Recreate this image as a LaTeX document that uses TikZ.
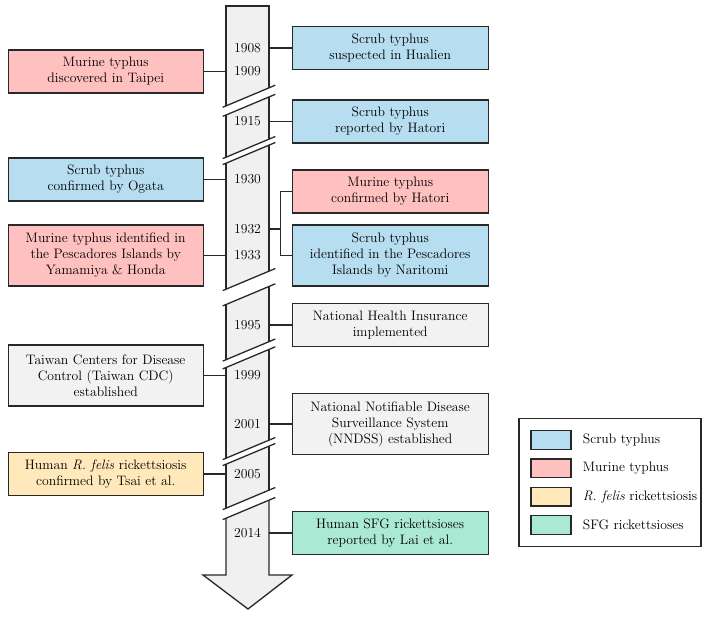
\documentclass[tikz,border=0pt]{standalone}
\usetikzlibrary{positioning}

\definecolor{scrubblue}{RGB}{183,221,240}
\definecolor{murinepink}{RGB}{255,192,192}
\definecolor{felisyellow}{RGB}{255,233,186}
\definecolor{sfggreen}{RGB}{170,233,212}
\definecolor{othergray}{RGB}{242,242,242}
\definecolor{barsgray}{RGB}{240,240,240}
\definecolor{inkline}{RGB}{40,40,40}

\tikzset{
  edge/.style={draw=inkline, line width=1.3pt},
  event/.style={draw=inkline, line width=1.3pt, align=center, minimum width=195pt,
    minimum height=43pt, inner sep=2pt},
  tall/.style={minimum height=61pt},
  yearlbl/.style={minimum width=43pt, inner sep=0pt},
  swatch/.style={draw=inkline, line width=1.3pt, minimum width=40pt, minimum height=18.5pt, inner sep=0pt},
  legtext/.style={inner sep=0pt, anchor=west}
}

% piece of the time bar between two cut marks (centre heights)
\newcommand{\barpiece}[2]{%
  \fill[barsgray] (226,#1+9.24) -- (269,#1-8.82) -- (269,#2-8.82) -- (226,#2+9.24) -- cycle;
  \draw[edge] (226,#1+9.24) -- (226,#2+9.24) (269,#1-8.82) -- (269,#2-8.82);}
% slanted cut mark
\newcommand{\cutmark}[1]{\draw[edge] (222.7,#1+10.6) -- (275.3,#1-11.5);}

\begin{document}
\begin{tikzpicture}[x=1pt, y=-1pt, font=\fontsize{13.7}{16}\selectfont]
    \useasboundingbox (0,0) rectangle (706,616);

    % time bar
    \fill[barsgray] (226,6) -- (269,6) -- (269,96.7-8.82) -- (226,96.7+9.24) -- cycle;
    \draw[edge] (226,96.7+9.24) -- (226,6) -- (269,6) -- (269,96.7-8.82);
    \barpiece{105.8}{148}
    \barpiece{154}{280}
    \barpiece{295.3}{350.5}
    \barpiece{358.3}{449}
    \barpiece{455}{499}
    \fill[barsgray] (226,509+9.24) -- (269,509-8.82) -- (269,575) -- (292,575) -- (248,609)
        -- (203,575) -- (226,575) -- cycle;
    \draw[edge] (269,509-8.82) -- (269,575) -- (292,575) -- (248,609) -- (203,575)
        -- (226,575) -- (226,509+9.24);
    \cutmark{96.7} \cutmark{105.8}
    \cutmark{148} \cutmark{154}
    \cutmark{280} \cutmark{295.3}
    \cutmark{350.5} \cutmark{358.3}
    \cutmark{449} \cutmark{455}
    \cutmark{499} \cutmark{509}

    % years
    \node[yearlbl] (y1908) at (247.5,48) {1908};
    \node[yearlbl] (y1909) at (247.5,71.5) {1909};
    \node[yearlbl] (y1915) at (247.5,121.5) {1915};
    \node[yearlbl] (y1930) at (247.5,179.5) {1930};
    \node[yearlbl] (y1932) at (247.5,229) {1932};
    \node[yearlbl] (y1933) at (247.5,255.5) {1933};
    \node[yearlbl] (y1995) at (247.5,325) {1995};
    \node[yearlbl] (y1999) at (247.5,375.5) {1999};
    \node[yearlbl] (y2001) at (247.5,424) {2001};
    \node[yearlbl] (y2005) at (247.5,474) {2005};
    \node[yearlbl] (y2014) at (247.5,533) {2014};

    % events on the left
    \node[event, fill=murinepink] (taipei) at (105.7,71.5) {Murine typhus\\discovered in Taipei};
    \node[event, fill=scrubblue] (ogata) at (105.7,179.5) {Scrub typhus\\confirmed by Ogata};
    \node[event, tall, fill=murinepink] (yamamiya) at (105.7,255.5)
        {Murine typhus identified in\\the Pescadores Islands by\\Yamamiya \& Honda};
    \node[event, tall, fill=othergray] (taiwancdc) at (105.7,375.5)
        {Taiwan Centers for Disease\\Control (Taiwan CDC)\\established};
    \node[event, fill=felisyellow] (tsai) at (105.7,474)
        {Human \textit{R. felis} rickettsiosis\\confirmed by Tsai et al.};

    % events on the right
    \node[event, minimum width=196pt, fill=scrubblue] (hualien) at (390.2,48)
        {Scrub typhus\\suspected in Hualien};
    \node[event, minimum width=196pt, fill=scrubblue] (hatori) at (390.2,121.5)
        {Scrub typhus\\reported by Hatori};
    \node[event, minimum width=196pt, fill=murinepink] (mthatori) at (390.2,191.5)
        {Murine typhus\\confirmed by Hatori};
    \node[event, tall, minimum width=196pt, fill=scrubblue] (naritomi) at (390.2,255.5)
        {Scrub typhus\\identified in the Pescadores\\Islands by Naritomi};
    \node[event, minimum width=196pt, fill=othergray] (nhi) at (390.2,325)
        {National Health Insurance\\implemented};
    \node[event, tall, minimum width=196pt, fill=othergray] (nndss) at (390.2,424)
        {National Notifiable Disease\\Surveillance System\\(NNDSS) established};
    \node[event, minimum width=196pt, fill=sfggreen] (lai) at (390.2,533)
        {Human SFG rickettsioses\\reported by Lai et al.};

    % connectors
    \draw[edge] (y1908) -- (hualien);
    \draw[edge] (taipei) -- (y1909);
    \draw[edge] (y1915) -- (hatori);
    \draw[edge] (ogata) -- (y1930);
    \coordinate (fork) at (280.7,229);
    \draw[edge] (y1932) -- (fork);
    \draw[edge] (mthatori.west) -| (fork) |- (naritomi.west);
    \draw[edge] (yamamiya) -- (y1933);
    \draw[edge] (y1995) -- (nhi);
    \draw[edge] (taiwancdc) -- (y1999);
    \draw[edge] (y2001) -- (nndss);
    \draw[edge] (tsai) -- (y2005);
    \draw[edge] (y2014) -- (lai);

    % legend
    \node[draw=inkline, line width=1.3pt, minimum width=182pt, minimum height=128.5pt] (legend) at (610,482.5) {};
    \node[swatch, fill=scrubblue] (swscrub) at (551,440) {};
    \node[swatch, fill=murinepink] (swmurine) at (551,468.3) {};
    \node[swatch, fill=felisyellow] (swfelis) at (551,496.6) {};
    \node[swatch, fill=sfggreen] (swsfg) at (551,524.9) {};
    \node[legtext, right=11pt of swscrub] (lgscrub) {Scrub typhus};
    \node[legtext, right=11pt of swmurine] (lgmurine) {Murine typhus};
    \node[legtext, right=11pt of swfelis] (lgfelis) {\textit{R. felis} rickettsiosis};
    \node[legtext, right=11pt of swsfg] (lgsfg) {SFG rickettsioses};
\end{tikzpicture}
\end{document}
